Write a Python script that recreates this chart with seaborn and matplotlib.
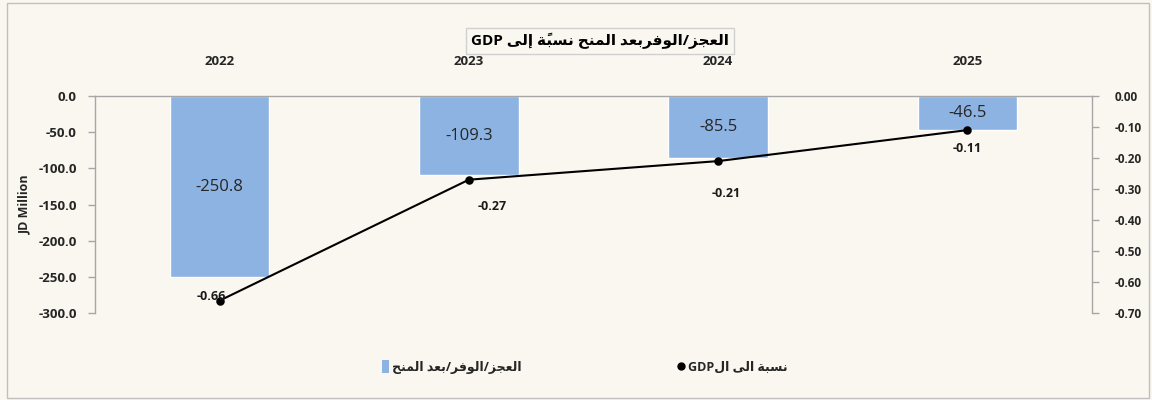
import matplotlib
matplotlib.use('Agg')
import matplotlib.pyplot as plt
import seaborn as sns
from matplotlib.patches import Patch, Rectangle
from matplotlib.lines import Line2D

# data
years = ['2022', '2023', '2024', '2025']
deficit = [-250.8, -109.3, -85.5, -46.5]
ratio_gdp = [-0.66, -0.27, -0.21, -0.11]
left_ticks = [0, -50, -100, -150, -200, -250, -300]
right_ticks = [0, -0.1, -0.2, -0.3, -0.4, -0.5, -0.6, -0.7]

# minimal arabic shaping (matplotlib has no text shaping / bidi)
FORMS = {
    'ا': (0xFE8D, 0xFE8E, None, None), 'إ': (0xFE87, 0xFE88, None, None),
    'ب': (0xFE8F, 0xFE90, 0xFE91, 0xFE92), 'ة': (0xFE93, 0xFE94, None, None),
    'ج': (0xFE9D, 0xFE9E, 0xFE9F, 0xFEA0), 'ح': (0xFEA1, 0xFEA2, 0xFEA3, 0xFEA4),
    'د': (0xFEA9, 0xFEAA, None, None), 'ر': (0xFEAD, 0xFEAE, None, None),
    'ز': (0xFEAF, 0xFEB0, None, None), 'س': (0xFEB1, 0xFEB2, 0xFEB3, 0xFEB4),
    'ع': (0xFEC9, 0xFECA, 0xFECB, 0xFECC), 'ف': (0xFED1, 0xFED2, 0xFED3, 0xFED4),
    'ل': (0xFEDD, 0xFEDE, 0xFEDF, 0xFEE0), 'م': (0xFEE1, 0xFEE2, 0xFEE3, 0xFEE4),
    'ن': (0xFEE5, 0xFEE6, 0xFEE7, 0xFEE8), 'و': (0xFEED, 0xFEEE, None, None),
    'ى': (0xFEEF, 0xFEF0, None, None),
}
LAM_ALEF = {'ا': (0xFEFB, 0xFEFC), 'إ': (0xFEF9, 0xFEFA)}
MARKS = {'\u064b'}


def rtl(s):
    out = []
    prev_dual = False
    i = 0
    while i < len(s):
        ch = s[i]
        if ch in MARKS:
            out[-1] += ch
            i += 1
            continue
        if ch not in FORMS:
            out.append(ch)
            prev_dual = False
            i += 1
            continue
        j = i + 1
        while j < len(s) and s[j] in MARKS:
            j += 1
        nxt = s[j] if j < len(s) else None
        if ch == 'ل' and nxt in LAM_ALEF:
            iso, fin = LAM_ALEF[nxt]
            out.append(chr(fin if prev_dual else iso))
            prev_dual = False
            i = j + 1
            continue
        f = FORMS[ch]
        dual = f[2] is not None
        to_next = dual and nxt in FORMS
        if prev_dual and to_next:
            g = f[3]
        elif prev_dual:
            g = f[1]
        elif to_next:
            g = f[2]
        else:
            g = f[0]
        out.append(chr(g))
        prev_dual = dual
        i += 1
    return ''.join(reversed(out))


title = 'GDP ' + rtl('العجز/الوفربعد المنح نسبةً إلى')
bar_name = rtl('العجز/الوفر/بعد المنح')
line_name = 'GDP' + rtl('نسبة الى ال')

bg = '#FAF7F0'
axis_grey = '#A6A6A6'
bar_color = '#8DB3E2'

sns.set_style('white')
plt.rcParams['font.family'] = ['Open Sans', 'DejaVu Sans']

fig = plt.figure(figsize=(11.52, 4), dpi=100, facecolor=bg)
ax = fig.add_axes([95 / 1152, 1 - 313 / 400, 997 / 1152, 217 / 400])
ax.set_facecolor(bg)
ax.patch.set_alpha(0)

sns.barplot(x=years, y=deficit, color=bar_color, width=0.4, saturation=1, ax=ax)
for i, v in enumerate(deficit):
    ax.text(i, v / 2, f'{v:.1f}', ha='center', va='center', fontsize=12, color='#262626')

ax.set_ylim(-300, 0)
ax.set_xlim(-0.5, 3.5)
ax.set_yticks(left_ticks)
ax.set_yticklabels([f'{t:.1f}' for t in left_ticks], fontsize=9.5, fontweight='bold')
ax.set_ylabel('JD Million', fontsize=9, fontweight='bold', labelpad=5)
ax.xaxis.tick_top()
ax.set_xlabel('')
ax.tick_params(axis='x', length=0, pad=20, labelsize=9.5)
for lbl in ax.get_xticklabels():
    lbl.set_fontweight('bold')
ax.tick_params(axis='y', length=5, color=axis_grey, width=1, direction='out', pad=8)

ax2 = ax.twinx()
sns.pointplot(x=years, y=ratio_gdp, color='black', markers='o', markersize=5,
              linewidth=1.5, ax=ax2)
ax2.set_ylim(-0.7, 0)
ax2.set_xlim(-0.5, 3.5)
ax2.set_yticks(right_ticks)
ax2.set_yticklabels([f'{t:.2f}' for t in right_ticks], fontsize=8.5, fontweight='bold')
ax2.set_ylabel('')
ax2.tick_params(axis='y', length=5, color=axis_grey, width=1, direction='out', pad=11)

label_offsets = [(-6, 3), (17, -19), (6, -23), (0, -13)]
for i, (v, off) in enumerate(zip(ratio_gdp, label_offsets)):
    ax2.annotate(f'{v:.2f}', (i, v), xytext=off, textcoords='offset points',
                 ha='center', va='center', fontsize=9, fontweight='bold', color='#1a1a1a')

for a in (ax, ax2):
    a.spines['bottom'].set_visible(False)
    for s in ('left', 'right', 'top'):
        a.spines[s].set_color(axis_grey)
        a.spines[s].set_linewidth(1)
ax.spines['right'].set_visible(False)
ax2.spines['left'].set_visible(False)
ax2.spines['top'].set_visible(False)

fig.text(600 / 1152, 1 - 41 / 400, title, ha='center', va='center', fontsize=11,
         fontweight='bold', color='black',
         bbox=dict(boxstyle='square,pad=0.3', facecolor=bg, edgecolor='#D0D0D0', linewidth=1))

handles = [Patch(facecolor=bar_color, edgecolor='none'),
           Line2D([], [], marker='o', color='black', linestyle='none', markersize=5)]
fig.legend(handles, [bar_name, line_name], loc='center', ncol=2,
           bbox_to_anchor=(585 / 1152, 1 - 367 / 400), frameon=False,
           handlelength=0.5, handleheight=1.2, handletextpad=0.3, columnspacing=12.5,
           prop={'size': 9, 'weight': 'bold'})

fig.patches.append(Rectangle((7 / 1152, 2 / 400), 1142 / 1152, 395 / 400,
                             transform=fig.transFigure, fill=False,
                             edgecolor='#BFBFBF', linewidth=1))

fig.savefig('out.png', dpi=100, facecolor=bg)
